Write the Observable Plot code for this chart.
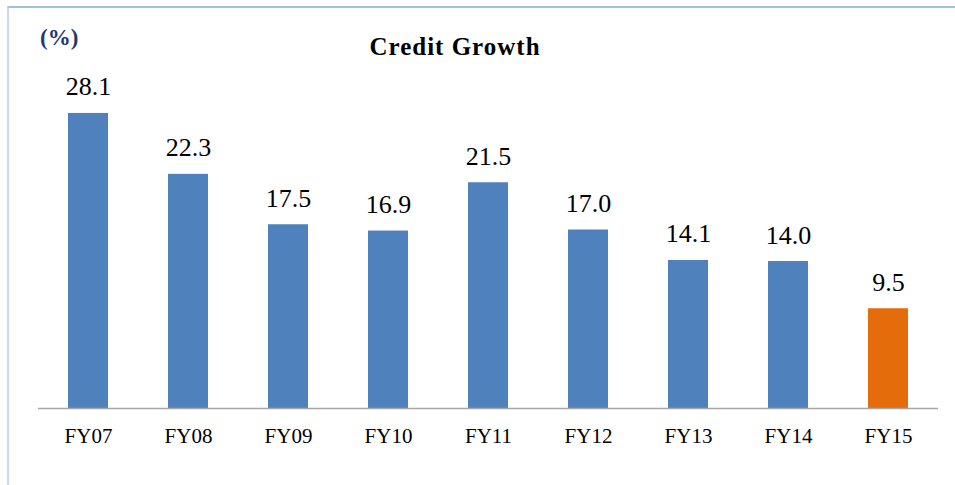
<!DOCTYPE html>
<html>
<head>
<meta charset="utf-8">
<script src="https://cdn.jsdelivr.net/npm/d3@7"></script>
<script src="https://cdn.jsdelivr.net/npm/@observablehq/plot@0.6"></script>
<style>
  html, body { margin: 0; padding: 0; background: #fff; }
  #wrap { position: relative; width: 955px; height: 485px; overflow: hidden; }
  #frame { position: absolute; left: 7px; top: 6px; width: 960px; height: 490px;
           border-top: 2px solid #A3BDEA; border-left: 2px solid #C9D8F2; box-sizing: border-box; }
  #title { position: absolute; left: 0; width: 910px; top: 33px; text-align: center;
           font-family: 'Liberation Serif', serif; font-weight: bold; font-size: 25px; letter-spacing: 1px; color: #000; }
  #unit { position: absolute; left: 40px; top: 25px; font-family: 'Liberation Serif', serif;
          font-weight: bold; font-size: 23px; color: #1F3A6E; }
  #chart { position: absolute; left: 0; top: 0; }
  #chart svg text { font-family: 'Liberation Serif', serif; }
</style>
</head>
<body>
<div id="wrap">
  <div id="frame"></div>
  <div id="chart"></div>
  <div id="title">Credit Growth</div>
  <div id="unit">(%)</div>
</div>
<script>
const categories = ["FY07", "FY08", "FY09", "FY10", "FY11", "FY12", "FY13", "FY14", "FY15"];
const growth = [28.1, 22.3, 17.5, 16.9, 21.5, 17.0, 14.1, 14.0, 9.5];
const highlight = "FY15";

const data = categories.map((c, i) => ({ year: c, value: growth[i] }));

const chart = Plot.plot({
  width: 955,
  height: 485,
  marginLeft: 38,
  marginRight: 17,
  marginTop: 93,
  marginBottom: 77,
  style: { background: "transparent", fontFamily: "'Liberation Serif', serif" },
  x: { domain: categories, paddingInner: 0.6, paddingOuter: 0.3, axis: null, label: null },
  y: { domain: [0, 30], axis: null },
  marks: [
    Plot.barY(data, { x: "year", y: "value", fill: d => d.year === highlight ? "#E46C0A" : "#4F81BD" }),
    Plot.ruleY([0], { stroke: "#A6A6A6", strokeWidth: 1.5 }),
    Plot.text(data, { x: "year", y: "value", text: d => d.value.toFixed(1), lineAnchor: "bottom", dy: -18,
                      fontSize: 26, fill: "#000", fontFamily: "'Liberation Serif', serif" }),
    Plot.axisX({ tickSize: 0, tickPadding: 20, fontSize: 21, fill: "#000", label: null, fontFamily: "'Liberation Serif', serif" })
  ]
});
document.getElementById("chart").appendChild(chart);
</script>
</body>
</html>
